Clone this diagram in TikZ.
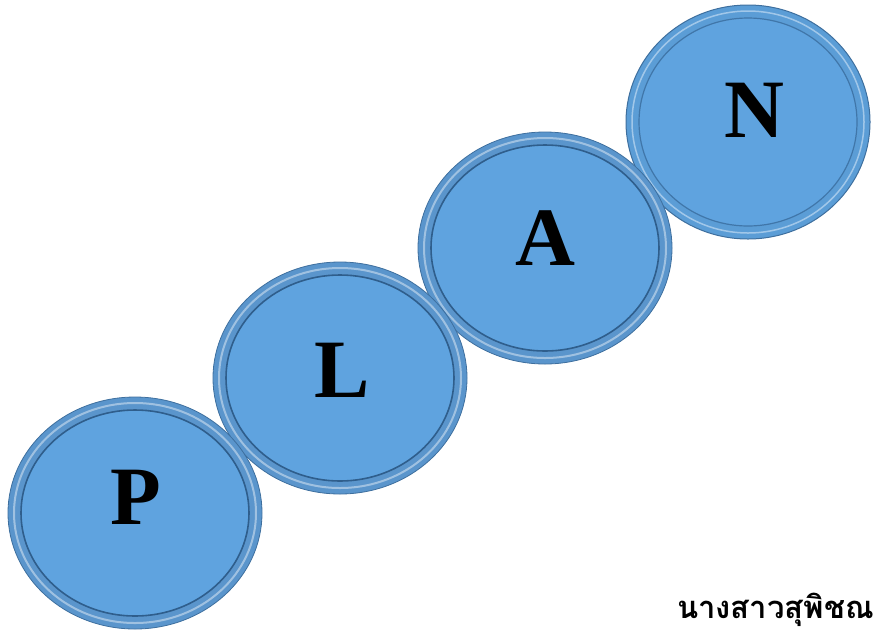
\documentclass[tikz,border=0pt]{standalone}
\usepackage{fontspec}
\setmainfont{Liberation Serif}
\newfontfamily\thaifont[Script=Thai]{Loma}
\definecolor{rimc}{HTML}{5A95CC}
\definecolor{rimedge}{HTML}{3E6F9E}
\definecolor{innerfill}{HTML}{5FA3DF}
\definecolor{innerline}{HTML}{2F5E8C}
\tikzset{
  letter/.style={font=\bfseries\fontsize{83}{83}\selectfont, text=black, inner sep=0pt},
}
\newcommand{\disc}[5]{% name, x, y, rx, ry
  \fill[rimc, draw=rimedge, line width=0.8pt] (#2,#3) ellipse [x radius=#4, y radius=#5];
  \draw[white!70!rimc, line width=2pt, opacity=0.6] (#2,#3) ellipse [x radius=#4-6, y radius=#5-6];
  \fill[innerfill] (#2,#3) ellipse [x radius=#4-13, y radius=#5-13];
  \draw[innerline, line width=1.6pt] (#2,#3) ellipse [x radius=#4-13, y radius=#5-13];
  \coordinate (#1) at (#2,#3);
}
\begin{document}
\begin{tikzpicture}[x=1pt,y=-1pt]
\useasboundingbox (0,0) rectangle (877,630);
% N (back)
\fill[innerfill!96!black, draw=rimedge, line width=1pt] (748,122) ellipse [x radius=122, y radius=117];
\draw[white!60!innerfill, line width=1.5pt, opacity=0.7] (748,122) ellipse [x radius=116, y radius=111];
\fill[innerfill] (748,122) ellipse [x radius=109, y radius=104];
\draw[innerline!65!innerfill, line width=1.2pt] (748,122) ellipse [x radius=109, y radius=104];
\coordinate (cN) at (748,122);
\disc{cA}{545}{248}{127}{116}
\disc{cL}{340}{378}{127}{116}
\disc{cP}{135}{513}{127}{116}
\node[letter] (tN) at (754,110) {N};
\node[letter] (tA) at (545,238) {A};
\node[letter] (tL) at (342,370) {L};
\node[letter] (tP) at (136,497) {P};
\node[font=\thaifont\bfseries\fontsize{31}{31}\selectfont, anchor=base east, inner sep=0pt] (name) at (874,618) {นางสาวสุพิชณ};
\end{tikzpicture}
\end{document}
